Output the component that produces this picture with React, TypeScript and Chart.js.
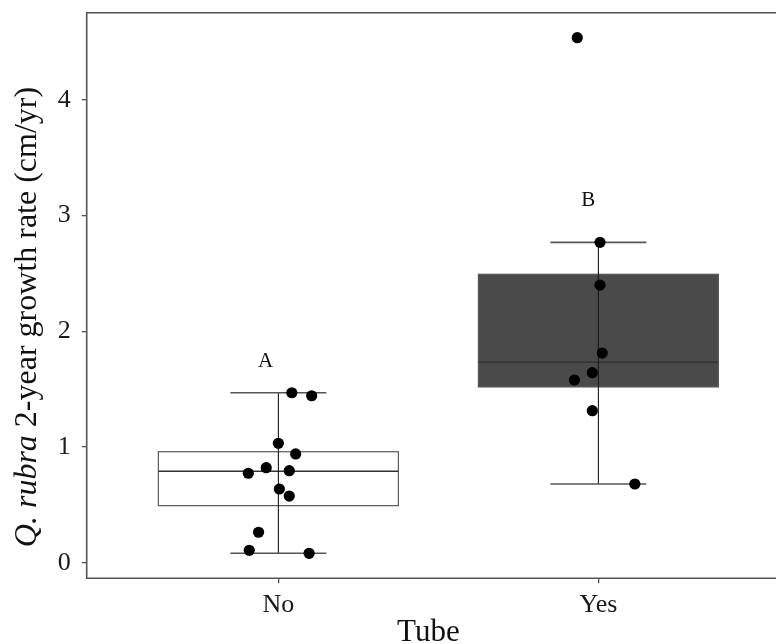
import React, { useEffect, useRef } from "react";
import { Chart, registerables } from "chart.js";

Chart.register(...registerables);

// ---- data ----
const categories = ["No", "Yes"];
const categoryPositions = [1, 2];
const q1Values = [0.493, 1.519];
const medianValues = [0.79, 1.732];
const q3Values = [0.959, 2.493];
const whiskerLow = [0.081, 0.68];
const whiskerHigh = [1.469, 2.769];
const boxFills = ["#ffffff", "#4a4a4a"];
const groupLetters = ["A", "B"];
const letterX = [0.96, 1.968];
const letterY = [1.735, 3.129];

const noPointsX = [1.042, 1.104, 1.0, 1.054, 0.906, 0.962, 1.034, 1.003, 1.034, 0.938, 0.909, 1.096];
const noPointsY = [1.469, 1.443, 1.032, 0.94, 0.773, 0.821, 0.795, 0.637, 0.576, 0.263, 0.107, 0.081];
const yesPointsX = [2.005, 2.005, 2.012, 1.981, 1.925, 1.981, 2.114, 1.934];
const yesPointsY = [2.769, 2.4, 1.812, 1.642, 1.579, 1.314, 0.68, 4.538];

const yTicks = [0, 1, 2, 3, 4];
const yTitleItalic = "Q. rubra";
const yTitleRest = " 2-year growth rate (cm/yr)";
const xTitle = "Tube";

const FONT = "'Liberation Serif', 'Times New Roman', serif";

const boxPlugin = {
  id: "boxDraw",
  beforeDatasetsDraw(chart: any) {
    const { ctx, scales } = chart;
    const xs = scales.x;
    const ys = scales.y;
    const halfBox = 0.375;
    const halfCap = 0.15;
    ctx.save();
    categoryPositions.forEach((c, i) => {
      const l = xs.getPixelForValue(c - halfBox);
      const r = xs.getPixelForValue(c + halfBox);
      const top = ys.getPixelForValue(q3Values[i]);
      const bot = ys.getPixelForValue(q1Values[i]);
      ctx.fillStyle = boxFills[i];
      ctx.fillRect(l, top, r - l, bot - top);
      ctx.strokeStyle = "#5a5a5a";
      ctx.lineWidth = 1.2;
      ctx.strokeRect(l, top, r - l, bot - top);
      // median
      const m = ys.getPixelForValue(medianValues[i]);
      ctx.strokeStyle = "#333333";
      ctx.lineWidth = 1.6;
      ctx.beginPath();
      ctx.moveTo(l, m);
      ctx.lineTo(r, m);
      ctx.stroke();
      // whisker
      const cx = xs.getPixelForValue(c);
      const wl = ys.getPixelForValue(whiskerLow[i]);
      const wh = ys.getPixelForValue(whiskerHigh[i]);
      ctx.strokeStyle = "#1a1a1a";
      ctx.lineWidth = 1.1;
      ctx.beginPath();
      ctx.moveTo(cx, wl);
      ctx.lineTo(cx, wh);
      ctx.stroke();
      const cl = xs.getPixelForValue(c - halfCap);
      const cr = xs.getPixelForValue(c + halfCap);
      ctx.strokeStyle = "#555555";
      ctx.lineWidth = 1.6;
      ctx.beginPath();
      ctx.moveTo(cl, wl);
      ctx.lineTo(cr, wl);
      ctx.moveTo(cl, wh);
      ctx.lineTo(cr, wh);
      ctx.stroke();
    });
    ctx.restore();
  },
  afterDraw(chart: any) {
    const { ctx, scales, chartArea } = chart;
    const xs = scales.x;
    const ys = scales.y;
    ctx.save();
    // frame
    ctx.strokeStyle = "#555555";
    ctx.lineWidth = 1.6;
    ctx.beginPath();
    ctx.moveTo(chartArea.right + 2, chartArea.top);
    ctx.lineTo(chartArea.left, chartArea.top);
    ctx.lineTo(chartArea.left, chartArea.bottom);
    ctx.lineTo(chartArea.right + 2, chartArea.bottom);
    ctx.stroke();
    // letters
    ctx.fillStyle = "#111111";
    ctx.font = `21px ${FONT}`;
    ctx.textAlign = "center";
    ctx.textBaseline = "middle";
    groupLetters.forEach((t, i) => {
      ctx.fillText(t, xs.getPixelForValue(letterX[i]), ys.getPixelForValue(letterY[i]));
    });
    // x title
    ctx.font = `31px ${FONT}`;
    ctx.textBaseline = "alphabetic";
    ctx.fillText(xTitle, (chartArea.left + chartArea.right) / 2 - 3, 641);
    // y title
    ctx.translate(36, 317);
    ctx.rotate(-Math.PI / 2);
    ctx.textAlign = "left";
    ctx.font = `italic 32px ${FONT}`;
    const w1 = ctx.measureText(yTitleItalic).width;
    ctx.font = `32px ${FONT}`;
    const w2 = ctx.measureText(yTitleRest).width;
    const start = -(w1 + w2) / 2;
    ctx.font = `italic 32px ${FONT}`;
    ctx.fillText(yTitleItalic, start, 0);
    ctx.font = `32px ${FONT}`;
    ctx.fillText(yTitleRest, start + w1, 0);
    ctx.restore();
  },
};

export default function App() {
  const ref = useRef<HTMLCanvasElement>(null);
  useEffect(() => {
    document.body.style.margin = "0";
    const canvas = ref.current!;
    const chart = new Chart(canvas, {
      type: "scatter",
      data: {
        datasets: [
          {
            label: categories[0],
            data: noPointsX.map((x, i) => ({ x, y: noPointsY[i] })),
            backgroundColor: "#000000",
            borderWidth: 0,
            pointRadius: 5.6,
          },
          {
            label: categories[1],
            data: yesPointsX.map((x, i) => ({ x, y: yesPointsY[i] })),
            backgroundColor: "#000000",
            borderWidth: 0,
            pointRadius: 5.6,
          },
        ],
      },
      options: {
        animation: false,
        responsive: false,
        devicePixelRatio: 1,
        layout: { autoPadding: false, padding: { top: 12.7, right: 0, left: 0, bottom: 0 } },
        plugins: { legend: { display: false }, tooltip: { enabled: false } },
        scales: {
          x: {
            type: "linear",
            min: 0.401,
            max: 2.555,
            afterBuildTicks: (s: any) => {
              s.ticks = categoryPositions.map((v) => ({ value: v }));
            },
            afterFit: (s: any) => {
              s.height = 65.7;
              s.paddingLeft = 0;
              s.paddingRight = 0;
            },
            ticks: {
              callback: (v: any) => categories[categoryPositions.indexOf(Number(v))] ?? "",
              font: { family: FONT, size: 26 },
              color: "#1a1a1a",
              padding: 6,
              maxRotation: 0,
            },
            grid: { drawOnChartArea: false, drawTicks: true, tickLength: 5, color: "#555555", lineWidth: 1.3 },
            border: { display: false },
          },
          y: {
            type: "linear",
            min: -0.135,
            max: 4.754,
            afterBuildTicks: (s: any) => {
              s.ticks = yTicks.map((v) => ({ value: v }));
            },
            afterFit: (s: any) => {
              s.width = 86.7;
              s.paddingTop = 0;
              s.paddingBottom = 0;
            },
            ticks: {
              font: { family: FONT, size: 26 },
              color: "#1a1a1a",
              padding: 11,
            },
            grid: { drawOnChartArea: false, drawTicks: true, tickLength: 5, color: "#555555", lineWidth: 1.3 },
            border: { display: false },
          },
        },
      },
      plugins: [boxPlugin],
    });
    return () => chart.destroy();
  }, []);
  return (
    <div style={{ width: 776, height: 644, background: "#ffffff" }}>
      <canvas ref={ref} width={776} height={644} style={{ display: "block" }} />
    </div>
  );
}
